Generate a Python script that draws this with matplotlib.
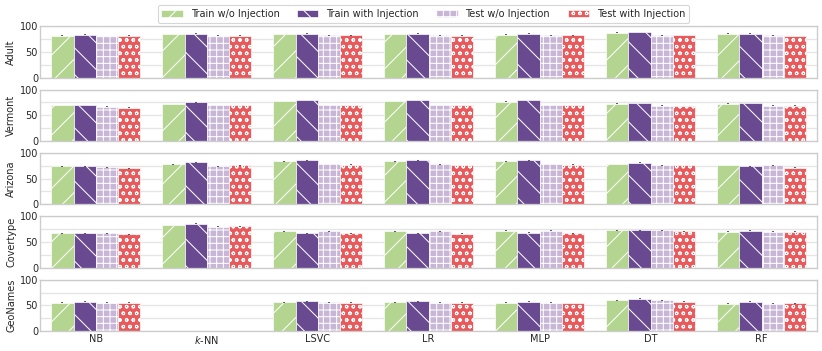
import numpy as np
import matplotlib
matplotlib.use('Agg')
import matplotlib.pyplot as plt
import seaborn as sns

sns.set_style('whitegrid')
plt.rcParams['font.family'] = ['DejaVu Sans']
plt.rcParams['hatch.color'] = 'white'
plt.rcParams['hatch.linewidth'] = 0.9

# 数据
classifiers = ['NB', '$k$-NN', 'LSVC', 'LR', 'MLP', 'DT', 'RF']
datasets = ['Adult', 'Vermont', 'Arizona', 'Covertype', 'GeoNames']
series = ['Train w/o Injection', 'Train with Injection', 'Test w/o Injection', 'Test with Injection']

adult_train_wo = [82, 85, 85, 85, 84, 87.5, 86]
adult_train_with = [84, 86, 86, 86, 86, 89, 86]
adult_test_wo = [81, 82, 82.5, 82.5, 82.5, 82.5, 82.5]
adult_test_with = [82, 82, 82.5, 82, 82.5, 83, 81]

vermont_train_wo = [70, 72, 78, 78, 76.5, 73, 73]
vermont_train_with = [70, 75, 80, 80, 80, 74, 74]
vermont_test_wo = [67, 70, 70, 70, 70, 69, 69]
vermont_test_with = [65, 70, 70, 70, 70, 68, 69]

arizona_train_wo = [74.5, 78, 84, 84, 84, 78.5, 76.5]
arizona_train_with = [74, 82, 86, 86, 86, 81, 74]
arizona_test_wo = [72.5, 74.5, 78.5, 78, 78.5, 76, 76]
arizona_test_with = [70, 76, 77, 76.5, 77, 76.5, 71]

covertype_train_wo = [67, 83, 70.5, 70.5, 72, 72.5, 70]
covertype_train_with = [67, 85.5, 67, 67, 68, 72.5, 72]
covertype_test_wo = [67, 80, 71, 71, 72, 72.5, 70]
covertype_test_with = [65, 81, 67, 66, 67, 70.5, 70]

geonames_train_wo = [55.5, 0, 56, 56, 55.5, 59.5, 53.5]
geonames_train_with = [57.5, 0, 58, 58, 57.5, 63, 57]
geonames_test_wo = [55.5, 0, 56, 55.5, 55.5, 59.5, 53.5]
geonames_test_with = [55, 0, 55, 55, 54.5, 57, 54]

values = {
    'Adult': [adult_train_wo, adult_train_with, adult_test_wo, adult_test_with],
    'Vermont': [vermont_train_wo, vermont_train_with, vermont_test_wo, vermont_test_with],
    'Arizona': [arizona_train_wo, arizona_train_with, arizona_test_wo, arizona_test_with],
    'Covertype': [covertype_train_wo, covertype_train_with, covertype_test_wo, covertype_test_with],
    'GeoNames': [geonames_train_wo, geonames_train_with, geonames_test_wo, geonames_test_with],
}

colors = ['#b3d590', '#694a90', '#c8b6d7', '#e85a5b']
hatches = ['/', '\\', '++', 'oo']
fs = 8.75

fig, axes = plt.subplots(len(datasets), 1, figsize=(10.275, 4.3875), dpi=80, sharex=True)
fig.subplots_adjust(left=0.049, right=0.994, top=0.925, bottom=0.057, hspace=0.235)

x = np.arange(len(classifiers))
w = 0.2
for ax, ds in zip(axes, datasets):
    for i, vals in enumerate(values[ds]):
        pos = x + (i - 1.5) * w
        ax.bar(pos, vals, width=w, color=colors[i], hatch=hatches[i],
               edgecolor='white', linewidth=0.6, label=series[i])
        ax.errorbar(pos, vals, yerr=0.8, fmt='none', ecolor='#333333',
                    elinewidth=1.4, capsize=0)
    ax.set_ylim(0, 100)
    ax.set_xlim(-0.5, len(classifiers) - 0.5)
    ax.set_yticks([0, 50, 100])
    ax.set_yticks([25, 75], minor=True)
    ax.grid(True, which='both', axis='y', color='#e5e5e5', linewidth=1.2)
    ax.grid(False, axis='x')
    ax.set_axisbelow(True)
    ax.set_ylabel(ds, fontsize=fs, labelpad=3)
    ax.tick_params(axis='y', labelsize=fs, pad=2, which='both', length=0)
    ax.tick_params(axis='x', labelsize=fs, pad=3, length=0)
    for s in ax.spines.values():
        s.set_color('#cccccc')
        s.set_linewidth(1.2)

axes[-1].set_xticks(x)
axes[-1].set_xticklabels(classifiers)

handles, labels = axes[0].get_legend_handles_labels()
fig.legend(handles, labels, loc='upper center', ncol=4, fontsize=fs,
           bbox_to_anchor=(0.515, 1.0), frameon=True, handlelength=2.2,
           columnspacing=1.8, borderpad=0.4)

plt.savefig('out.png')
